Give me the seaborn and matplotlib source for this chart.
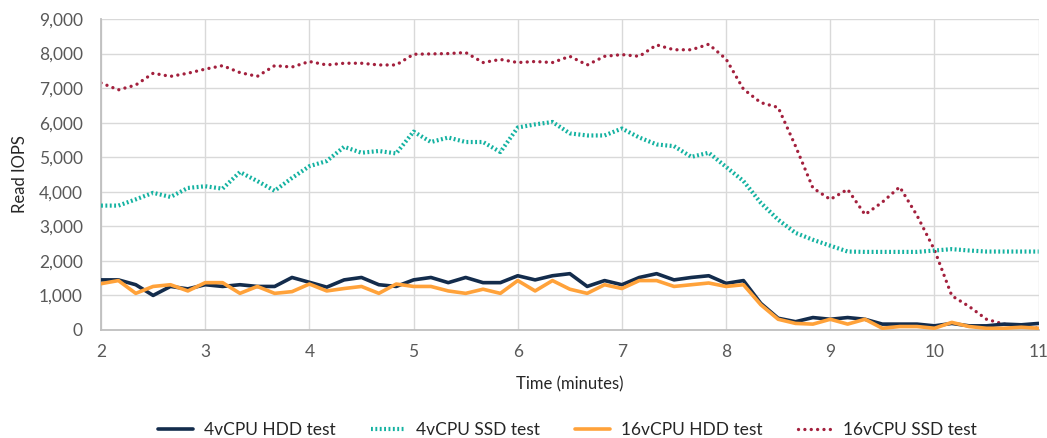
import numpy as np
import pandas as pd
import matplotlib
matplotlib.use("Agg")
import matplotlib.pyplot as plt
import seaborn as sns

# Sample times: every 10 seconds from minute 2 to minute 11
minutes = np.round(np.arange(55) / 6 + 2, 4)

hdd_4vcpu = [1450, 1450, 1310, 1000, 1260, 1190, 1310, 1260, 1310, 1260,
             1260, 1520, 1380, 1240, 1450, 1520, 1310, 1260, 1450, 1520,
             1370, 1520, 1370, 1370, 1570, 1450, 1570, 1630, 1260, 1430,
             1310, 1520, 1630, 1450, 1520, 1570, 1350, 1430, 770, 340,
             240, 360, 310, 360, 310, 170, 170, 170, 120, 190,
             120, 120, 170, 150, 190]

ssd_4vcpu = [3600, 3600, 3780, 3970, 3850, 4110, 4160, 4090, 4570, 4310,
             4030, 4400, 4740, 4890, 5300, 5130, 5180, 5110, 5740, 5440,
             5570, 5440, 5440, 5150, 5860, 5950, 6020, 5690, 5630, 5630,
             5830, 5570, 5370, 5320, 5010, 5130, 4720, 4310, 3680, 3190,
             2810, 2610, 2440, 2270, 2260, 2260, 2260, 2260, 2300, 2340,
             2300, 2270, 2270, 2270, 2270]

hdd_16vcpu = [1340, 1430, 1060, 1260, 1310, 1130, 1370, 1370, 1060, 1260,
              1060, 1110, 1330, 1130, 1200, 1260, 1060, 1330, 1260, 1260,
              1130, 1060, 1180, 1060, 1430, 1130, 1430, 1180, 1060, 1310,
              1200, 1430, 1430, 1260, 1310, 1360, 1260, 1310, 730, 310,
              190, 170, 310, 170, 310, 50, 100, 100, 50, 220,
              100, 50, 50, 80, 50]

ssd_16vcpu = [7150, 6950, 7090, 7430, 7340, 7430, 7550, 7650, 7450, 7340,
              7650, 7610, 7770, 7670, 7720, 7720, 7670, 7670, 7980, 7990,
              8000, 8030, 7740, 7830, 7740, 7770, 7740, 7920, 7670, 7920,
              7970, 7920, 8250, 8110, 8110, 8270, 7840, 6970, 6580, 6440,
              5320, 4110, 3780, 4070, 3340, 3700, 4140, 3310, 2320, 990,
              680, 310, 170, 100, 50]

series_names = ["4vCPU HDD test", "4vCPU SSD test", "16vCPU HDD test", "16vCPU SSD test"]
series_values = [hdd_4vcpu, ssd_4vcpu, hdd_16vcpu, ssd_16vcpu]
x_ticks = [2, 3, 4, 5, 6, 7, 8, 9, 10, 11]
y_ticks = [0, 1000, 2000, 3000, 4000, 5000, 6000, 7000, 8000, 9000]

df = pd.concat(
    [pd.DataFrame({"Time": minutes, "IOPS": vals, "Series": name})
     for name, vals in zip(series_names, series_values)],
    ignore_index=True,
)

sns.set_theme(style="white")
plt.rcParams["font.family"] = ["Lato", "DejaVu Sans"]

palette = {
    "4vCPU HDD test": "#132c4c",
    "4vCPU SSD test": "#14b2a1",
    "16vCPU HDD test": "#ffa23a",
    "16vCPU SSD test": "#a3203d",
}

fig = plt.figure(figsize=(10.47, 4.38), dpi=100)
ax = fig.add_axes([0.0965, 0.2466, 0.8955, 0.7100])

sns.lineplot(data=df, x="Time", y="IOPS", hue="Series", hue_order=series_names,
             palette=palette, ax=ax, legend=False, sort=False)

styles = {
    "4vCPU HDD test": dict(lw=2.6, ls="-", cap="butt"),
    "4vCPU SSD test": dict(lw=3.0, ls=(0, (0.45, 0.6)), cap="butt"),
    "16vCPU HDD test": dict(lw=2.6, ls="-", cap="butt"),
    "16vCPU SSD test": dict(lw=2.4, ls=(0, (0.01, 1.9)), cap="round"),
}
for line, name in zip(ax.get_lines(), series_names):
    st = styles[name]
    line.set_linewidth(st["lw"])
    line.set_linestyle(st["ls"])
    line.set_dash_capstyle(st["cap"])
    line.set_solid_joinstyle("round")
    line.set_label(name)
# stacking order of the four series
for line, z in zip(ax.get_lines(), [4, 3, 5, 2]):
    line.set_zorder(z)

ax.set_xlim(2, 11)
ax.set_ylim(0, 9000)
ax.set_xticks(x_ticks)
ax.set_yticks(y_ticks)
ax.set_xticklabels([str(t) for t in x_ticks])
ax.set_yticklabels([f"{t:,}" for t in y_ticks])
ax.grid(True, color="#d9d9d9", lw=1.0)
ax.set_axisbelow(True)

for side in ["top", "right"]:
    ax.spines[side].set_visible(False)
for side in ["left", "bottom"]:
    ax.spines[side].set_color("#bfbfbf")
    ax.spines[side].set_linewidth(1.3)

ax.tick_params(axis="both", length=0, labelsize=12.5, labelcolor="#595959")
ax.tick_params(axis="x", pad=10)
ax.tick_params(axis="y", pad=13)
ax.set_xlabel("Time (minutes)", fontsize=12, color="#262626", labelpad=12)
ax.set_ylabel("Read IOPS", fontsize=12, color="#262626", labelpad=8)

handles = ax.get_lines()[:4]
fig.legend(handles, series_names, loc="lower center", bbox_to_anchor=(0.542, -0.035),
           ncol=4, frameon=False, fontsize=12.5, handlelength=2.0,
           columnspacing=2.05, handletextpad=0.6, labelcolor="#262626")

fig.savefig("out.png", dpi=100)
